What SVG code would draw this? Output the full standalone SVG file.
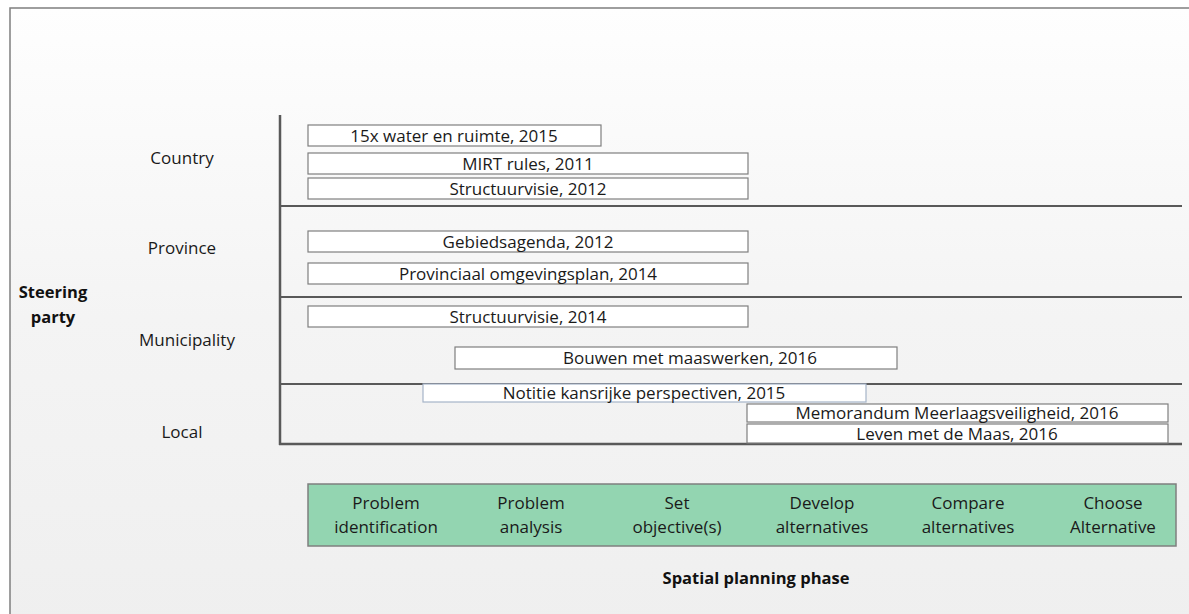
<svg xmlns="http://www.w3.org/2000/svg" width="1189" height="614" viewBox="0 0 1189 614">
  <defs>
    <linearGradient id="bg" x1="0" y1="0" x2="0" y2="1">
      <stop offset="0" stop-color="#fefefe"/>
      <stop offset="0.5" stop-color="#f4f4f4"/>
      <stop offset="1" stop-color="#efefef"/>
    </linearGradient>
    <style>
      .frame { fill: url(#bg); stroke: #7f7f7f; stroke-width: 1.5; }
      .axis { stroke: #595959; stroke-width: 2.5; fill: none; }
      .sep { stroke: #595959; stroke-width: 2; fill: none; }
      .item rect { fill: #ffffff; stroke: #7f7f7f; stroke-width: 1.2; }
      .item.light rect { stroke: #a6b4c8; }
      .item text, .phase text, .row text { font-family: "Open Sans", "Liberation Sans", sans-serif; font-size: 17px; fill: #1a1a1a; text-anchor: middle; }
      .phase rect { fill: #93d5b1; stroke: #7f7f7f; stroke-width: 1.5; }
      .bold { font-family: "Open Sans", "Liberation Sans", sans-serif; font-size: 16.5px; font-weight: bold; fill: #111111; text-anchor: middle; }
    </style>
  </defs>

  <!-- page frame -->
  <rect class="frame" x="10" y="8" width="1190" height="620"/>

  <!-- axis and row separators -->
  <g id="connectors">
    <line class="axis" x1="280" y1="115" x2="280" y2="445"/>
    <line class="sep" x1="280" y1="206" x2="1182" y2="206"/>
    <line class="sep" x1="280" y1="297" x2="1182" y2="297"/>
    <line class="sep" x1="280" y1="384" x2="1182" y2="384"/>
    <line class="axis" x1="279" y1="444" x2="1182" y2="444"/>
  </g>

  <!-- row labels -->
  <g id="rows" class="row">
    <text x="182" y="164">Country</text>
    <text x="182" y="254">Province</text>
    <text x="187" y="346">Municipality</text>
    <text x="182" y="438">Local</text>
  </g>
  <g id="steering-party">
    <text class="bold" x="53" y="298">Steering</text>
    <text class="bold" x="53" y="323">party</text>
  </g>

  <!-- policy documents -->
  <g id="water-ruimte" class="item">
    <rect x="308" y="125" width="293" height="21"/>
    <text x="454" y="142">15x water en ruimte, 2015</text>
  </g>
  <g id="mirt" class="item">
    <rect x="308" y="153" width="440" height="21"/>
    <text x="528" y="170">MIRT rules, 2011</text>
  </g>
  <g id="structuurvisie-2012" class="item">
    <rect x="308" y="178" width="440" height="21"/>
    <text x="528" y="195">Structuurvisie, 2012</text>
  </g>
  <g id="gebiedsagenda" class="item">
    <rect x="308" y="231" width="440" height="21"/>
    <text x="528" y="248">Gebiedsagenda, 2012</text>
  </g>
  <g id="omgevingsplan" class="item">
    <rect x="308" y="263" width="440" height="21"/>
    <text x="528" y="280">Provinciaal omgevingsplan, 2014</text>
  </g>
  <g id="structuurvisie-2014" class="item">
    <rect x="308" y="306" width="440" height="21"/>
    <text x="528" y="323">Structuurvisie, 2014</text>
  </g>
  <g id="bouwen" class="item">
    <rect x="455" y="347" width="442" height="22"/>
    <text x="690" y="364">Bouwen met maaswerken, 2016</text>
  </g>
  <g id="notitie" class="item light">
    <rect x="423" y="384" width="443" height="18"/>
    <text x="644" y="399">Notitie kansrijke perspectiven, 2015</text>
  </g>
  <g id="memorandum" class="item">
    <rect x="747" y="404" width="421" height="18"/>
    <text x="957" y="419">Memorandum Meerlaagsveiligheid, 2016</text>
  </g>
  <g id="leven" class="item">
    <rect x="747" y="424" width="421" height="19"/>
    <text x="957" y="440">Leven met de Maas, 2016</text>
  </g>

  <!-- planning phases -->
  <g id="phases" class="phase">
    <rect x="308" y="484" width="868" height="62"/>
    <text x="386" y="509">Problem</text>
    <text x="386" y="533">identification</text>
    <text x="531" y="509">Problem</text>
    <text x="531" y="533">analysis</text>
    <text x="677" y="509">Set</text>
    <text x="677" y="533">objective(s)</text>
    <text x="822" y="509">Develop</text>
    <text x="822" y="533">alternatives</text>
    <text x="968" y="509">Compare</text>
    <text x="968" y="533">alternatives</text>
    <text x="1113" y="509">Choose</text>
    <text x="1113" y="533">Alternative</text>
  </g>
  <g id="phase-axis-label">
    <text class="bold" x="756" y="584">Spatial planning phase</text>
  </g>
</svg>
